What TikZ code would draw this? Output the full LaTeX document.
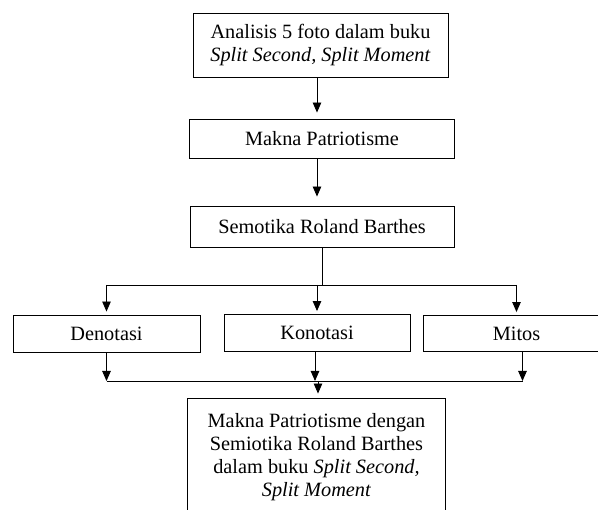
\documentclass[tikz,border=0pt]{standalone}
\usepackage{fontspec}
\setmainfont{Liberation Serif}
\usetikzlibrary{arrows.meta}
\begin{document}
\begin{tikzpicture}[x=1pt,y=-1pt,
        kotak/.style={draw,line width=0.9pt,align=center,inner sep=0pt,
          font=\fontsize{20.3}{23}\selectfont},
        panah/.style={-{Triangle[length=10pt,width=8.5pt]},line width=0.9pt},
        garis/.style={line width=0.9pt}]
\useasboundingbox (0,0) rectangle (598,510);
\node[kotak,minimum width=255,minimum height=64] (analisis) at (320.5,45) {Analisis 5 foto dalam buku\\\textit{Split Second, Split Moment}}; % Box.0
\node[kotak,minimum width=265,minimum height=39] (makna) at (322,138.5) {Makna Patriotisme}; % Box.1
\node[kotak,minimum width=264,minimum height=41] (semiotika) at (322,226.5) {Semotika Roland Barthes}; % Box.2
\node[kotak,minimum width=187,minimum height=37] (denotasi) at (106.5,333.5) {Denotasi}; % Box.3
\node[kotak,minimum width=186,minimum height=37] (konotasi) at (317,333) {Konotasi}; % Box.4
\node[kotak,minimum width=187,minimum height=36] (mitos) at (516.5,333.5) {Mitos}; % Box.5
\node[kotak,draw=none,minimum width=257,minimum height=112,text depth=0pt] (hasil) at (316.5,455) {Makna Patriotisme dengan\\Semiotika Roland Barthes\\dalam buku \textit{Split Second,}\\\textit{Split Moment}}; % Box.6
\draw[garis] (hasil.north west) rectangle ([yshift=-20pt]hasil.south east); % Box.6
\coordinate (pusat) at (317,0); % Spine.0
\coordinate (cabang) at (322,285); % Split.0
\coordinate (gabung) at (318,381); % Join.0
\draw[panah,shorten >=6pt] (analisis.south -| pusat) -- (makna.north -| pusat); % Arrow.0
\draw[panah,shorten >=9pt] (makna.south -| pusat) -- (semiotika.north -| pusat); % Arrow.1
\draw[garis] (semiotika.south) -- (cabang); % Split.0
\draw[garis] (cabang -| denotasi) -- (cabang -| mitos); % Split.0
\draw[panah,shorten >=3pt] (cabang -| denotasi) -- (denotasi.north); % Split.0
\draw[panah,shorten >=3pt] (cabang -| konotasi) -- (konotasi.north); % Split.0
\draw[panah,shorten >=3pt] (cabang -| mitos) -- (mitos.north); % Split.0
\draw[panah] (denotasi.south) -- (gabung -| denotasi); % Join.0
\draw[panah] ([xshift=-2pt]konotasi.south) -- ([xshift=-2pt]gabung -| konotasi); % Join.0
\draw[panah] ([xshift=6pt]mitos.south) -- ([xshift=6pt]gabung -| mitos); % Join.0
\draw[garis] (gabung -| denotasi) -- ([xshift=6pt]gabung -| mitos); % Join.0
\draw[panah,shorten >=5pt] (gabung) -- (hasil.north -| gabung); % Join.0
\end{tikzpicture}
\end{document}
